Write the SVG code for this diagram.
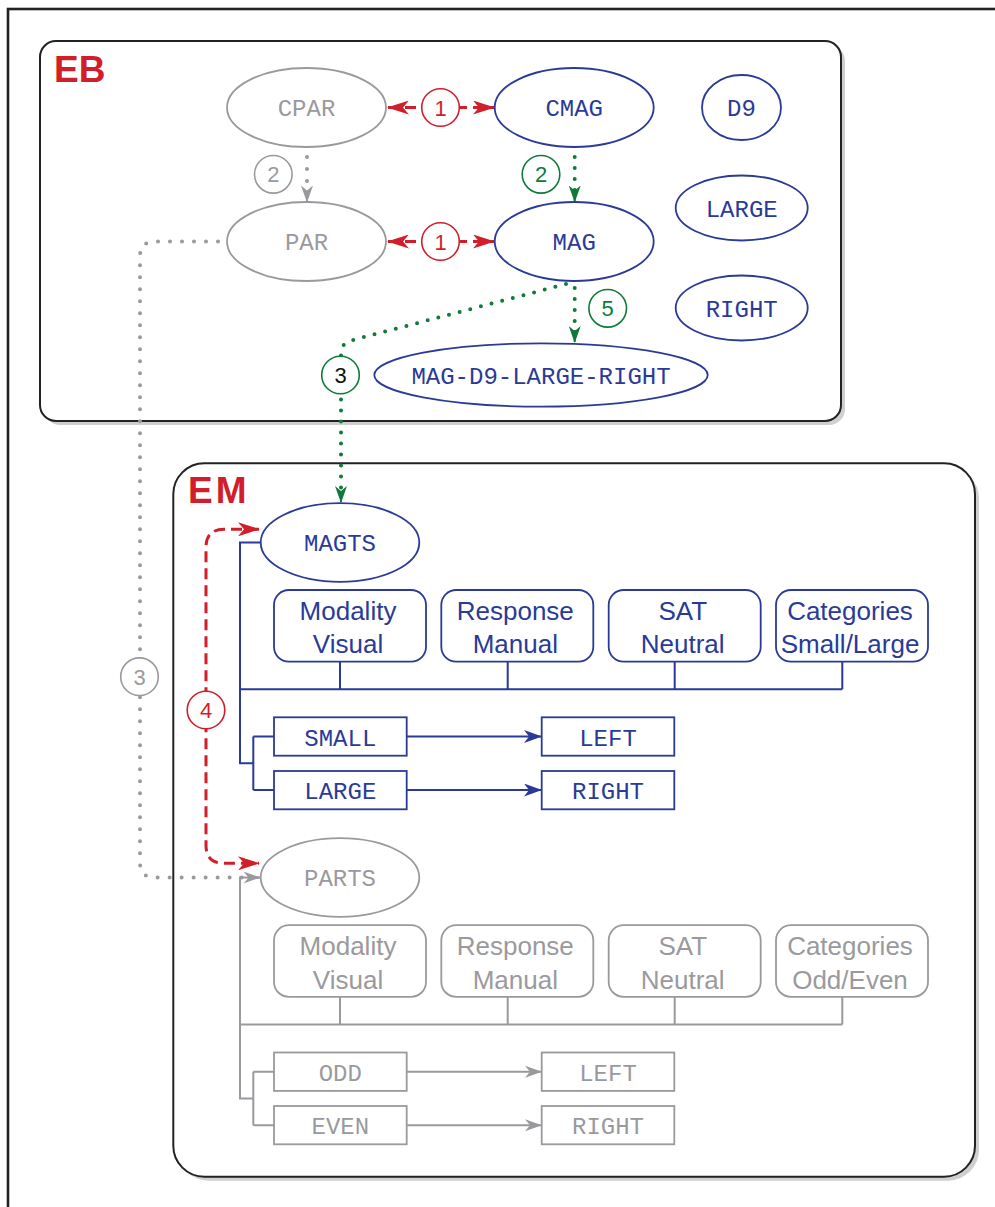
<svg xmlns="http://www.w3.org/2000/svg" width="995" height="1207" viewBox="0 0 995 1207">
<style>
.mono{font-family:"Liberation Mono","DejaVu Sans Mono",monospace;font-size:24px;text-anchor:middle}
.sans{font-family:"Liberation Sans","DejaVu Sans",sans-serif;font-size:26px;text-anchor:middle}
.num{font-family:"Liberation Sans","DejaVu Sans",sans-serif;font-size:22px;text-anchor:middle}
.title{font-family:"Liberation Sans","DejaVu Sans",sans-serif;font-size:37px;font-weight:bold;fill:#d01f2b}
.blue{stroke:#2a3b97;fill:#fff;stroke-width:1.8}
.bluet{fill:#2a3b97}
.gray{stroke:#9a9a9e;fill:#fff;stroke-width:1.8}
.grayt{fill:#9a9a9e}
.bl{stroke:#2a3b97;stroke-width:2;fill:none}
.gl{stroke:#9a9a9e;stroke-width:2;fill:none}
.reddash{stroke:#d01f2b;stroke-width:3;fill:none;stroke-dasharray:11 6}
.gdot{stroke:#0f7a3a;stroke-width:4;fill:none;stroke-dasharray:0 11;stroke-linecap:round}
.ydot{stroke:#9a9a9e;stroke-width:4;fill:none;stroke-dasharray:0 12;stroke-linecap:round}
.circ{fill:#fff;stroke-width:1.6}
</style>
<defs>
<marker id="ar" markerUnits="userSpaceOnUse" markerWidth="22" markerHeight="14" viewBox="0 0 22 14" refX="21" refY="7" orient="auto-start-reverse"><path d="M0,0 L22,7 L0,14 L6,7 z" fill="#d01f2b"/></marker>
<marker id="ag" markerUnits="userSpaceOnUse" markerWidth="17" markerHeight="12" viewBox="0 0 17 12" refX="16" refY="6" orient="auto"><path d="M0,0 L17,6 L0,12 L5,6 z" fill="#0f7a3a"/></marker>
<marker id="ay" markerUnits="userSpaceOnUse" markerWidth="17" markerHeight="12" viewBox="0 0 17 12" refX="16" refY="6" orient="auto"><path d="M0,0 L17,6 L0,12 L5,6 z" fill="#9a9a9e"/></marker>
<marker id="ab" markerUnits="userSpaceOnUse" markerWidth="18" markerHeight="13" viewBox="0 0 18 13" refX="17" refY="6.5" orient="auto"><path d="M0,0 L18,6.5 L0,13 L5,6.5 z" fill="#2a3b97"/></marker>
</defs>
<rect x="8" y="9" width="1010" height="1230" fill="none" stroke="#222" stroke-width="2.6"/>
<g id="EB">
<rect x="44" y="45" width="801" height="380" rx="16" fill="#cfcfcf"/>
<rect x="40" y="41" width="801" height="380" rx="16" fill="#fff" stroke="#222" stroke-width="2"/>
<text class="title" x="54" y="82">EB</text>
</g>
<g id="EM">
<rect x="177.3" y="467.3" width="801.7" height="713.4" rx="31" fill="#cfcfcf"/>
<rect x="173.3" y="463.3" width="801.7" height="713.4" rx="31" fill="#fff" stroke="#222" stroke-width="2"/>
<text class="title" x="188" y="502.7" letter-spacing="3">EM</text>
</g>
<g id="connectors">
<line class="reddash" x1="388" y1="107.5" x2="494" y2="107.5" marker-start="url(#ar)" marker-end="url(#ar)"/>
<line class="reddash" x1="388" y1="241.5" x2="494" y2="241.5" marker-start="url(#ar)" marker-end="url(#ar)"/>
<path class="ydot" d="M307,157 L307,196"/>
<line x1="307" y1="195" x2="307" y2="201.5" stroke="#9a9a9e" stroke-width="2" marker-end="url(#ay)"/>
<path class="gdot" d="M574.7,157 L574.7,196"/>
<line x1="574.7" y1="195" x2="574.7" y2="201.5" stroke="#0f7a3a" stroke-width="2" marker-end="url(#ag)"/>
<path class="gdot" d="M574.7,288 L574.7,336"/>
<line x1="574.7" y1="335" x2="574.7" y2="342" stroke="#0f7a3a" stroke-width="2" marker-end="url(#ag)"/>
<path class="gdot" d="M566,284 L351,340.5 Q341,343.5 341,354 L341,494"/>
<line x1="341" y1="494" x2="341" y2="502" stroke="#0f7a3a" stroke-width="2" marker-end="url(#ag)"/>
<path class="ydot" d="M230,241.5 L155,241.5 Q140,241.5 140,256.5 L140,862.5 Q140,877.5 155,877.5 L250,877.5"/>
<line x1="250" y1="877.5" x2="259.5" y2="877.5" stroke="#9a9a9e" stroke-width="2" marker-end="url(#ay)"/>
<path class="reddash" d="M259,529.3 L224,529.3 Q206,529.3 206,547.3 L206,845.3 Q206,863.3 224,863.3 L259,863.3" marker-start="url(#ar)" marker-end="url(#ar)"/>
<path class="bl" d="M260.7,542.5 L240,542.5 L240,763.3 L253.3,763.3 M253.3,736.5 L253.3,790 M253.3,736.5 L274,736.5 M253.3,790 L274,790 M240,689.3 L842.3,689.3 M340,661.7 L340,689.3 M507.7,661.7 L507.7,689.3 M674.7,661.7 L674.7,689.3 M842.3,661.7 L842.3,689.3"/>
<line class="bl" x1="406.7" y1="736.5" x2="541" y2="736.5" marker-end="url(#ab)"/>
<line class="bl" x1="406.7" y1="790" x2="541" y2="790" marker-end="url(#ab)"/>
<path class="gl" d="M260.7,877.5 L240,877.5 L240,1098.5 L253.3,1098.5 M253.3,1071.7 L253.3,1125.2 M253.3,1071.7 L274,1071.7 M253.3,1125.2 L274,1125.2 M240,1024.5 L842.3,1024.5 M340,996.9 L340,1024.5 M507.7,996.9 L507.7,1024.5 M674.7,996.9 L674.7,1024.5 M842.3,996.9 L842.3,1024.5"/>
<line class="gl" x1="406.7" y1="1071.7" x2="541" y2="1071.7" marker-end="url(#ay)"/>
<line class="gl" x1="406.7" y1="1125.2" x2="541" y2="1125.2" marker-end="url(#ay)"/>
<circle class="circ" cx="440.5" cy="107.5" r="18.8" stroke="#d01f2b"/><text class="num" x="440.5" y="115.5" fill="#d01f2b">1</text>
<circle class="circ" cx="440.5" cy="241.5" r="18.8" stroke="#d01f2b"/><text class="num" x="440.5" y="249.5" fill="#d01f2b">1</text>
<circle class="circ" cx="273.3" cy="174.3" r="18.8" stroke="#9a9a9e"/><text class="num" x="273.3" y="182.3" fill="#9a9a9e">2</text>
<circle class="circ" cx="541" cy="174.3" r="18.8" stroke="#0f7a3a"/><text class="num" x="541" y="182.3" fill="#0f7a3a">2</text>
<circle class="circ" cx="607.7" cy="308.3" r="18.8" stroke="#0f7a3a"/><text class="num" x="607.7" y="316.3" fill="#0f7a3a">5</text>
<circle class="circ" cx="340.5" cy="375" r="18.8" stroke="#0f7a3a"/><text class="num" x="340.5" y="383" fill="#111">3</text>
<circle class="circ" cx="139.5" cy="676.7" r="18.8" stroke="#9a9a9e"/><text class="num" x="139.5" y="684.7" fill="#9a9a9e">3</text>
<circle class="circ" cx="206" cy="710" r="18.8" stroke="#d01f2b"/><text class="num" x="206" y="718" fill="#d01f2b">4</text>
</g>
<g id="CPAR"><ellipse class="gray" cx="306.5" cy="107.5" rx="79.5" ry="39.5"/><text class="mono grayt" x="306.5" y="116.3">CPAR</text></g>
<g id="PAR"><ellipse class="gray" cx="306.5" cy="241.5" rx="79.5" ry="39.5"/><text class="mono grayt" x="306.5" y="250.3">PAR</text></g>
<g id="CMAG"><ellipse class="blue" cx="574.2" cy="107.5" rx="79.5" ry="39.5"/><text class="mono bluet" x="574.2" y="116.3">CMAG</text></g>
<g id="MAG"><ellipse class="blue" cx="574.2" cy="241.5" rx="79.5" ry="39.5"/><text class="mono bluet" x="574.2" y="250.3">MAG</text></g>
<g id="D9"><ellipse class="blue" cx="741.5" cy="107.5" rx="39.5" ry="32.5"/><text class="mono bluet" x="741.5" y="116.3">D9</text></g>
<g id="LARGE"><ellipse class="blue" cx="741.7" cy="208" rx="66" ry="32.5"/><text class="mono bluet" x="741.7" y="216.8">LARGE</text></g>
<g id="RIGHT"><ellipse class="blue" cx="741.7" cy="308" rx="66" ry="32.5"/><text class="mono bluet" x="741.7" y="316.8">RIGHT</text></g>
<g id="MAG-D9-LARGE-RIGHT"><ellipse class="blue" cx="541" cy="375" rx="166.7" ry="31.7"/><text class="mono bluet" x="541" y="383.8">MAG-D9-LARGE-RIGHT</text></g>
<g id="MAGTS"><ellipse class="blue" cx="340" cy="542.5" rx="79.3" ry="39.3"/><text class="mono bluet" x="340" y="551.3">MAGTS</text></g>
<g id="MAGTS-Modality"><rect class="blue" x="274" y="590" width="152" height="71.7" rx="15" stroke-width="2"/><text class="sans bluet" x="348" y="620">Modality</text><text class="sans bluet" x="348" y="653.3">Visual</text></g>
<g id="MAGTS-Response"><rect class="blue" x="441.3" y="590" width="152" height="71.7" rx="15" stroke-width="2"/><text class="sans bluet" x="515.3" y="620">Response</text><text class="sans bluet" x="515.3" y="653.3">Manual</text></g>
<g id="MAGTS-SAT"><rect class="blue" x="608.7" y="590" width="152" height="71.7" rx="15" stroke-width="2"/><text class="sans bluet" x="682.7" y="620">SAT</text><text class="sans bluet" x="682.7" y="653.3">Neutral</text></g>
<g id="MAGTS-Categories"><rect class="blue" x="776" y="590" width="152" height="71.7" rx="15" stroke-width="2"/><text class="sans bluet" x="850" y="620">Categories</text><text class="sans bluet" x="850" y="653.3">Small/Large</text></g>
<g id="SMALL"><rect class="blue" x="274" y="717.3" width="132.7" height="38.4" stroke-width="2"/><text class="mono bluet" x="340.3" y="745.5">SMALL</text></g>
<g id="LARGE2"><rect class="blue" x="274" y="771" width="132.7" height="38.3" stroke-width="2"/><text class="mono bluet" x="340.3" y="799">LARGE</text></g>
<g id="LEFT"><rect class="blue" x="541.7" y="717.3" width="132.6" height="38.4" stroke-width="2"/><text class="mono bluet" x="608" y="745.5">LEFT</text></g>
<g id="RIGHT2"><rect class="blue" x="541.7" y="771" width="132.6" height="38.3" stroke-width="2"/><text class="mono bluet" x="608" y="799">RIGHT</text></g>
<g id="PARTS"><ellipse class="gray" cx="340" cy="877.5" rx="79.3" ry="39.3"/><text class="mono grayt" x="340" y="886.3">PARTS</text></g>
<g id="PARTS-Modality"><rect class="gray" x="274" y="925.2" width="152" height="71.7" rx="15" stroke-width="2"/><text class="sans grayt" x="348" y="955.2">Modality</text><text class="sans grayt" x="348" y="988.5">Visual</text></g>
<g id="PARTS-Response"><rect class="gray" x="441.3" y="925.2" width="152" height="71.7" rx="15" stroke-width="2"/><text class="sans grayt" x="515.3" y="955.2">Response</text><text class="sans grayt" x="515.3" y="988.5">Manual</text></g>
<g id="PARTS-SAT"><rect class="gray" x="608.7" y="925.2" width="152" height="71.7" rx="15" stroke-width="2"/><text class="sans grayt" x="682.7" y="955.2">SAT</text><text class="sans grayt" x="682.7" y="988.5">Neutral</text></g>
<g id="PARTS-Categories"><rect class="gray" x="776" y="925.2" width="152" height="71.7" rx="15" stroke-width="2"/><text class="sans grayt" x="850" y="955.2">Categories</text><text class="sans grayt" x="850" y="988.5">Odd/Even</text></g>
<g id="ODD"><rect class="gray" x="274" y="1052.5" width="132.7" height="38.4" stroke-width="2"/><text class="mono grayt" x="340.3" y="1080.7">ODD</text></g>
<g id="EVEN"><rect class="gray" x="274" y="1106" width="132.7" height="38.3" stroke-width="2"/><text class="mono grayt" x="340.3" y="1134.2">EVEN</text></g>
<g id="LEFT3"><rect class="gray" x="541.7" y="1052.5" width="132.6" height="38.4" stroke-width="2"/><text class="mono grayt" x="608" y="1080.7">LEFT</text></g>
<g id="RIGHT3"><rect class="gray" x="541.7" y="1106" width="132.6" height="38.3" stroke-width="2"/><text class="mono grayt" x="608" y="1134.2">RIGHT</text></g>
</svg>
